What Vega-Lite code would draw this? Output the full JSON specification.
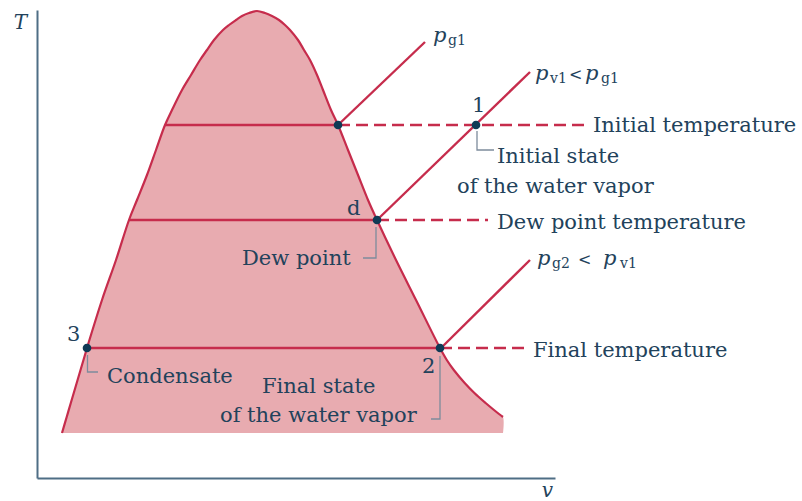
{
  "$schema": "https://vega.github.io/schema/vega-lite/v6.json",
  "width": 518,
  "height": 468,
  "autosize": {"type": "none"},
  "padding": {"left": 37, "top": 10, "right": 247, "bottom": 23},
  "background": "white",
  "config": {
    "view": {"stroke": null},
    "axis": {
      "domain": true, "domainColor": "#4f6e85", "domainWidth": 2,
      "ticks": false, "labels": false, "grid": false,
      "titleFont": "DejaVu Serif", "titleFontStyle": "italic", "titleFontWeight": "normal",
      "titleFontSize": 20, "titleColor": "#22425b", "titleAngle": 0,
      "titleAlign": "center", "titleBaseline": "alphabetic"
    },
    "axisX": {"titleX": 510, "titleY": 18},
    "axisY": {"titleX": -17, "titleY": 18}
  },
  "datasets": {
    "dome": [
      {"T": 45, "vl": 25, "vr": 466},
      {"T": 61, "vl": 29.7, "vr": 466},
      {"T": 64, "vl": 30.6, "vr": 462},
      {"T": 68, "vl": 31.8, "vr": 457},
      {"T": 75, "vl": 33.8, "vr": 448.6},
      {"T": 85, "vl": 36.8, "vr": 437.4},
      {"T": 95, "vl": 39.7, "vr": 427.7},
      {"T": 108, "vl": 43.5, "vr": 416.8},
      {"T": 118, "vl": 46.5, "vr": 409.8},
      {"T": 130, "vl": 50, "vr": 403},
      {"T": 178, "vl": 65, "vr": 379},
      {"T": 218, "vl": 79, "vr": 359},
      {"T": 258, "vl": 92, "vr": 340},
      {"T": 278, "vl": 100, "vr": 331},
      {"T": 303, "vl": 110, "vr": 321},
      {"T": 328, "vl": 119, "vr": 311},
      {"T": 353, "vl": 128, "vr": 301},
      {"T": 368, "vl": 135, "vr": 294},
      {"T": 388, "vl": 145, "vr": 286},
      {"T": 403, "vl": 154, "vr": 280},
      {"T": 418, "vl": 163, "vr": 273},
      {"T": 428, "vl": 170, "vr": 267},
      {"T": 438, "vl": 177, "vr": 261},
      {"T": 448, "vl": 186, "vr": 253},
      {"T": 453, "vl": 192, "vr": 248},
      {"T": 458, "vl": 199, "vr": 242},
      {"T": 462, "vl": 205, "vr": 235},
      {"T": 465, "vl": 212, "vr": 228},
      {"T": 467, "vl": 220, "vr": 220}
    ],
    "outline": [
      {"seq": 1, "v": 25, "T": 45},
      {"seq": 2, "v": 29.7, "T": 61},
      {"seq": 3, "v": 33.8, "T": 75},
      {"seq": 4, "v": 39.7, "T": 95},
      {"seq": 5, "v": 50, "T": 130},
      {"seq": 6, "v": 65, "T": 178},
      {"seq": 7, "v": 79, "T": 218},
      {"seq": 8, "v": 92, "T": 258},
      {"seq": 9, "v": 100, "T": 278},
      {"seq": 10, "v": 110, "T": 303},
      {"seq": 11, "v": 119, "T": 328},
      {"seq": 12, "v": 128, "T": 353},
      {"seq": 13, "v": 135, "T": 368},
      {"seq": 14, "v": 145, "T": 388},
      {"seq": 15, "v": 154, "T": 403},
      {"seq": 16, "v": 163, "T": 418},
      {"seq": 17, "v": 170, "T": 428},
      {"seq": 18, "v": 177, "T": 438},
      {"seq": 19, "v": 186, "T": 448},
      {"seq": 20, "v": 192, "T": 453},
      {"seq": 21, "v": 199, "T": 458},
      {"seq": 22, "v": 205, "T": 462},
      {"seq": 23, "v": 212, "T": 465},
      {"seq": 24, "v": 220, "T": 467},
      {"seq": 25, "v": 228, "T": 465},
      {"seq": 26, "v": 235, "T": 462},
      {"seq": 27, "v": 242, "T": 458},
      {"seq": 28, "v": 248, "T": 453},
      {"seq": 29, "v": 253, "T": 448},
      {"seq": 30, "v": 261, "T": 438},
      {"seq": 31, "v": 267, "T": 428},
      {"seq": 32, "v": 273, "T": 418},
      {"seq": 33, "v": 280, "T": 403},
      {"seq": 34, "v": 286, "T": 388},
      {"seq": 35, "v": 294, "T": 368},
      {"seq": 36, "v": 301, "T": 353},
      {"seq": 37, "v": 311, "T": 328},
      {"seq": 38, "v": 321, "T": 303},
      {"seq": 39, "v": 331, "T": 278},
      {"seq": 40, "v": 340, "T": 258},
      {"seq": 41, "v": 359, "T": 218},
      {"seq": 42, "v": 379, "T": 178},
      {"seq": 43, "v": 403, "T": 130},
      {"seq": 44, "v": 409.8, "T": 118},
      {"seq": 45, "v": 416.8, "T": 108},
      {"seq": 46, "v": 427.7, "T": 95},
      {"seq": 47, "v": 437.4, "T": 85},
      {"seq": 48, "v": 448.6, "T": 75},
      {"seq": 49, "v": 457, "T": 68},
      {"seq": 50, "v": 462, "T": 64},
      {"seq": 51, "v": 466, "T": 61}
    ],
    "ties": [
      {"T": 353, "v1": 128, "v2": 301},
      {"T": 258, "v1": 92, "v2": 340},
      {"T": 130, "v1": 50, "v2": 403}
    ],
    "dashes": [
      {"T": 353, "v1": 301, "v2": 550},
      {"T": 258, "v1": 340, "v2": 451},
      {"T": 130, "v1": 403, "v2": 490}
    ],
    "isobars": [
      {"name": "pg1", "v1": 301, "T1": 353, "v2": 388, "T2": 436},
      {"name": "pv1", "v1": 340, "T1": 258, "v2": 493, "T2": 406},
      {"name": "pg2", "v1": 403, "T1": 129, "v2": 493, "T2": 218}
    ],
    "leaders": [
      {"id": "1", "ord": 1, "v": 440, "T": 347},
      {"id": "1", "ord": 2, "v": 440, "T": 328},
      {"id": "1", "ord": 3, "v": 457, "T": 328},
      {"id": "d", "ord": 1, "v": 339, "T": 251},
      {"id": "d", "ord": 2, "v": 339, "T": 220},
      {"id": "d", "ord": 3, "v": 326, "T": 220},
      {"id": "3", "ord": 1, "v": 50.5, "T": 123},
      {"id": "3", "ord": 2, "v": 50.5, "T": 106},
      {"id": "3", "ord": 3, "v": 61, "T": 106},
      {"id": "2", "ord": 1, "v": 403, "T": 122},
      {"id": "2", "ord": 2, "v": 403, "T": 59},
      {"id": "2", "ord": 3, "v": 394, "T": 59}
    ],
    "points": [
      {"state": "g1", "v": 301, "T": 353},
      {"state": "1", "v": 439, "T": 353},
      {"state": "d", "v": 340, "T": 258},
      {"state": "2", "v": 403, "T": 130},
      {"state": "3", "v": 50, "T": 130}
    ],
    "labels": [
      {"text": "Initial temperature", "v": 556, "T": 346},
      {"text": "Initial state", "v": 460, "T": 315},
      {"text": "of the water vapor", "v": 420, "T": 285},
      {"text": "Dew point temperature", "v": 460, "T": 249},
      {"text": "Dew point", "v": 205, "T": 213},
      {"text": "Final temperature", "v": 496, "T": 121},
      {"text": "Condensate", "v": 70, "T": 95},
      {"text": "Final state", "v": 225, "T": 85},
      {"text": "of the water vapor", "v": 183, "T": 56},
      {"text": "1", "v": 435, "T": 366},
      {"text": "d", "v": 310, "T": 263},
      {"text": "2", "v": 385, "T": 105},
      {"text": "3", "v": 30, "T": 137}
    ],
    "ops": [
      {"text": "<", "v": 532, "T": 398},
      {"text": "<", "v": 541, "T": 213}
    ],
    "pvars": [
      {"text": "p", "v": 396, "T": 436},
      {"text": "p", "v": 498, "T": 398},
      {"text": "p", "v": 548, "T": 398},
      {"text": "p", "v": 500, "T": 213},
      {"text": "p", "v": 566, "T": 213}
    ],
    "subs": [
      {"text": "g1", "v": 411, "T": 433},
      {"text": "v1", "v": 513, "T": 395},
      {"text": "g1", "v": 564, "T": 395},
      {"text": "g2", "v": 515, "T": 210},
      {"text": "v1", "v": 583, "T": 210}
    ]
  },
  "layer": [
    {
      "data": {"name": "dome"},
      "mark": {"type": "area", "orient": "horizontal", "color": "#e8abb0", "opacity": 1, "interpolate": "catmull-rom"},
      "encoding": {
        "y": {"field": "T", "type": "quantitative", "title": "T", "scale": {"domain": [0, 468], "nice": false, "zero": false}},
        "x": {"field": "vl", "type": "quantitative", "title": "v", "scale": {"domain": [0, 518], "nice": false, "zero": false}},
        "x2": {"field": "vr"}
      }
    },
    {
      "data": {"name": "outline"},
      "mark": {"type": "line", "color": "#c62c4c", "strokeWidth": 2.2, "interpolate": "catmull-rom"},
      "encoding": {
        "x": {"field": "v", "type": "quantitative", "title": "v", "scale": {"domain": [0, 518], "nice": false, "zero": false}},
        "y": {"field": "T", "type": "quantitative", "title": "T", "scale": {"domain": [0, 468], "nice": false, "zero": false}},
        "order": {"field": "seq", "type": "quantitative"}
      }
    },
    {
      "data": {"name": "ties"},
      "mark": {"type": "rule", "color": "#c62c4c", "strokeWidth": 2.6},
      "encoding": {
        "x": {"field": "v1", "type": "quantitative", "title": "v", "scale": {"domain": [0, 518], "nice": false, "zero": false}},
        "x2": {"field": "v2"},
        "y": {"field": "T", "type": "quantitative", "title": "T", "scale": {"domain": [0, 468], "nice": false, "zero": false}}
      }
    },
    {
      "data": {"name": "dashes"},
      "mark": {"type": "rule", "color": "#c62c4c", "strokeWidth": 2.4, "strokeDash": [12, 6]},
      "encoding": {
        "x": {"field": "v1", "type": "quantitative", "title": "v", "scale": {"domain": [0, 518], "nice": false, "zero": false}},
        "x2": {"field": "v2"},
        "y": {"field": "T", "type": "quantitative", "title": "T", "scale": {"domain": [0, 468], "nice": false, "zero": false}}
      }
    },
    {
      "data": {"name": "isobars"},
      "mark": {"type": "rule", "color": "#c62c4c", "strokeWidth": 2.4},
      "encoding": {
        "x": {"field": "v1", "type": "quantitative", "title": "v", "scale": {"domain": [0, 518], "nice": false, "zero": false}},
        "x2": {"field": "v2"},
        "y": {"field": "T1", "type": "quantitative", "title": "T", "scale": {"domain": [0, 468], "nice": false, "zero": false}},
        "y2": {"field": "T2"}
      }
    },
    {
      "data": {"name": "leaders"},
      "mark": {"type": "line", "color": "#7d8c9c", "strokeWidth": 1.3},
      "encoding": {
        "x": {"field": "v", "type": "quantitative", "title": "v", "scale": {"domain": [0, 518], "nice": false, "zero": false}},
        "y": {"field": "T", "type": "quantitative", "title": "T", "scale": {"domain": [0, 468], "nice": false, "zero": false}},
        "detail": {"field": "id"},
        "order": {"field": "ord", "type": "quantitative"}
      }
    },
    {
      "data": {"name": "points"},
      "mark": {"type": "circle", "color": "#0f3a55", "opacity": 1, "size": 75},
      "encoding": {
        "x": {"field": "v", "type": "quantitative", "title": "v", "scale": {"domain": [0, 518], "nice": false, "zero": false}},
        "y": {"field": "T", "type": "quantitative", "title": "T", "scale": {"domain": [0, 468], "nice": false, "zero": false}}
      }
    },
    {
      "data": {"name": "labels"},
      "mark": {"type": "text", "font": "DejaVu Serif", "fontSize": 21, "color": "#22425b", "align": "left", "baseline": "alphabetic"},
      "encoding": {
        "x": {"field": "v", "type": "quantitative", "title": "v", "scale": {"domain": [0, 518], "nice": false, "zero": false}},
        "y": {"field": "T", "type": "quantitative", "title": "T", "scale": {"domain": [0, 468], "nice": false, "zero": false}},
        "text": {"field": "text"}
      }
    },
    {
      "data": {"name": "ops"},
      "mark": {"type": "text", "font": "DejaVu Serif", "fontSize": 16, "color": "#22425b", "align": "left", "baseline": "alphabetic"},
      "encoding": {
        "x": {"field": "v", "type": "quantitative", "title": "v", "scale": {"domain": [0, 518], "nice": false, "zero": false}},
        "y": {"field": "T", "type": "quantitative", "title": "T", "scale": {"domain": [0, 468], "nice": false, "zero": false}},
        "text": {"field": "text"}
      }
    },
    {
      "data": {"name": "pvars"},
      "mark": {"type": "text", "font": "DejaVu Serif", "fontStyle": "italic", "fontSize": 21, "color": "#22425b", "align": "left", "baseline": "alphabetic"},
      "encoding": {
        "x": {"field": "v", "type": "quantitative", "title": "v", "scale": {"domain": [0, 518], "nice": false, "zero": false}},
        "y": {"field": "T", "type": "quantitative", "title": "T", "scale": {"domain": [0, 468], "nice": false, "zero": false}},
        "text": {"field": "text"}
      }
    },
    {
      "data": {"name": "subs"},
      "mark": {"type": "text", "font": "DejaVu Serif", "fontSize": 14, "color": "#22425b", "align": "left", "baseline": "alphabetic"},
      "encoding": {
        "x": {"field": "v", "type": "quantitative", "title": "v", "scale": {"domain": [0, 518], "nice": false, "zero": false}},
        "y": {"field": "T", "type": "quantitative", "title": "T", "scale": {"domain": [0, 468], "nice": false, "zero": false}},
        "text": {"field": "text"}
      }
    }
  ]
}
